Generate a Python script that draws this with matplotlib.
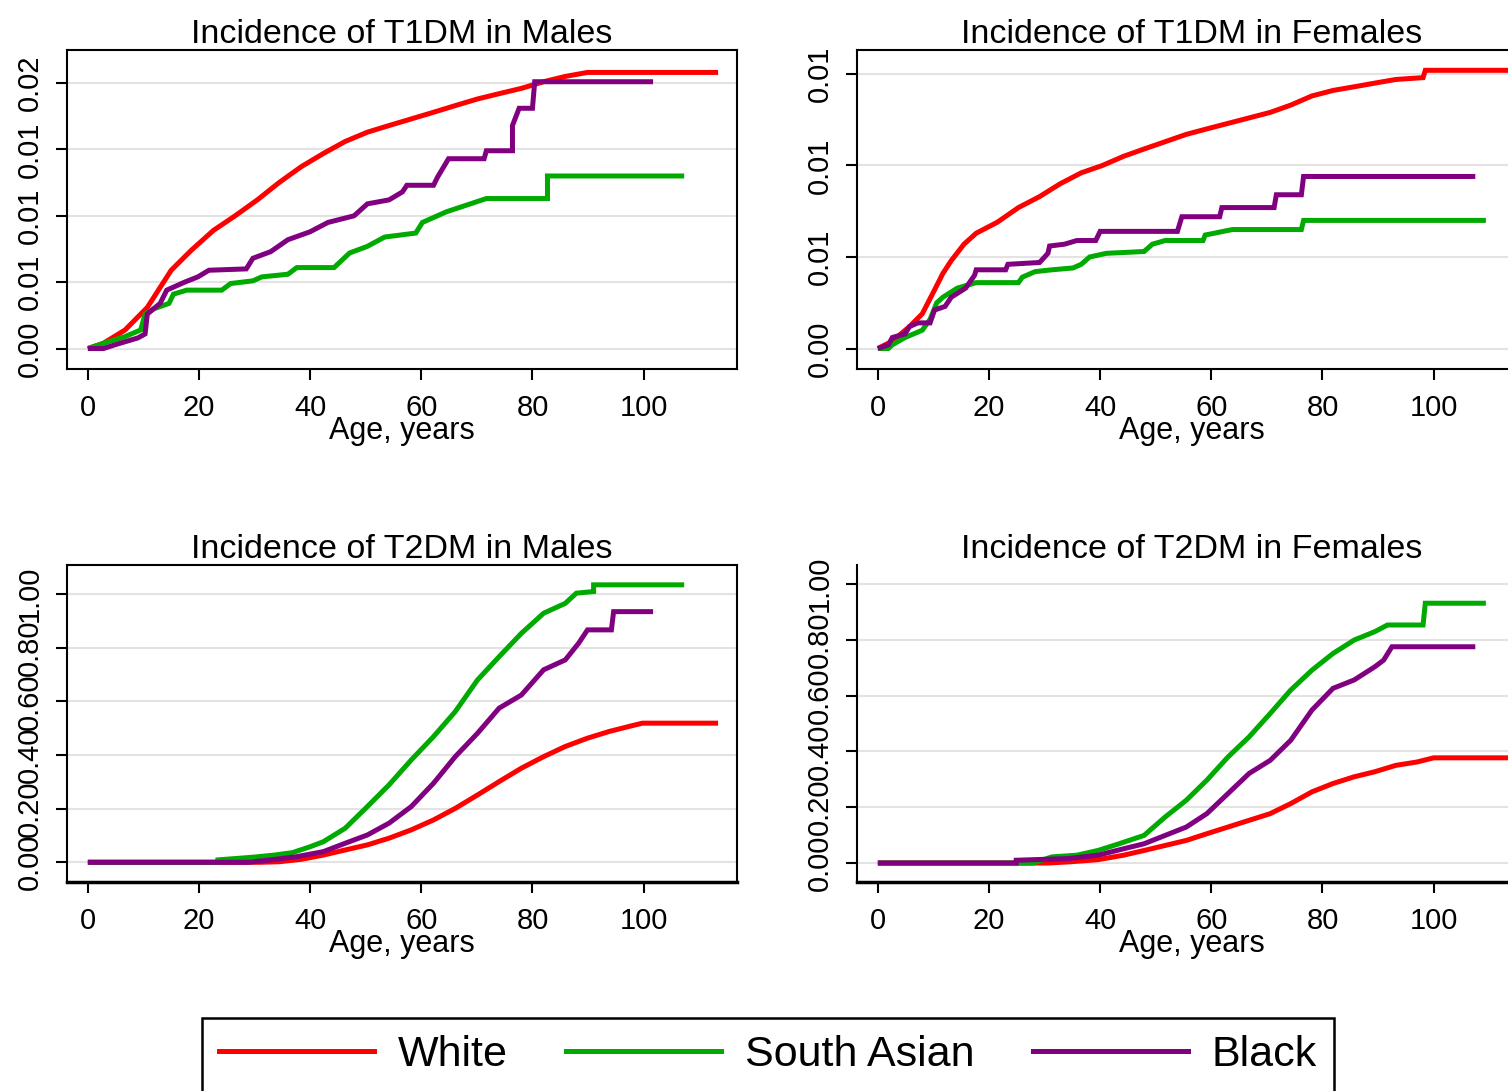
import matplotlib
matplotlib.use("Agg")
import matplotlib.pyplot as plt
from matplotlib.ticker import FormatStrFormatter
from matplotlib.lines import Line2D

plt.rcParams['font.family'] = ['Liberation Sans', 'DejaVu Sans']

# cumulative incidence by age
groups = ["White", "South Asian", "Black"]
colors = ["#ff0000", "#00aa00", "#800080"]

# T1DM, males
t1m_white_age = [0, 2.8, 6.7, 10.7, 15, 18.6, 22.6, 26.5, 30.5, 34.4, 38.4, 42.4, 46.3, 50.3, 54.2,
                 58.2, 62.2, 66.1, 70.1, 74, 78, 82, 85.9, 89.9, 113.4]
t1m_white = [0, 0.0004, 0.0014, 0.0031, 0.0059, 0.0074, 0.0089, 0.0100, 0.0112, 0.0125, 0.0137, 0.0147,
             0.0156, 0.0163, 0.0168, 0.0173, 0.0178, 0.0183, 0.0188, 0.0192, 0.0196, 0.0201, 0.0205,
             0.0208, 0.0208]
t1m_sa_age = [0, 3.6, 6.7, 9.5, 10.3, 11.9, 14.6, 15.4, 17.8, 24.1, 25.7, 29.7, 31.3, 36, 37.6, 44.3,
              47.1, 50.3, 53.4, 59, 60.2, 64.5, 68.1, 71.7, 82.7, 82.7, 107.3]
t1m_sa = [0, 0.0005, 0.0009, 0.0014, 0.0026, 0.0030, 0.0034, 0.0041, 0.0044, 0.0044, 0.0049, 0.0051,
          0.0054, 0.0056, 0.0061, 0.0061, 0.0072, 0.0077, 0.0084, 0.0087, 0.0095, 0.0103, 0.0108,
          0.0113, 0.0113, 0.0130, 0.0130]
t1m_black_age = [0, 2.8, 5, 9, 10.3, 10.7, 13, 14.2, 17.4, 19.8, 21.8, 28.5, 29.7, 32.9, 36, 40, 43.2,
                 47.9, 50.3, 54.2, 56.6, 57.4, 62.2, 62.9, 64.9, 71.3, 71.7, 76.4, 76.4, 77.6, 80,
                 80.4, 101.7]
t1m_black = [0, 0, 0.0003, 0.0008, 0.0011, 0.0026, 0.0034, 0.0044, 0.0050, 0.0054, 0.0059, 0.0060,
             0.0068, 0.0073, 0.0082, 0.0088, 0.0095, 0.0100, 0.0109, 0.0112, 0.0118, 0.0123, 0.0123,
             0.0129, 0.0143, 0.0143, 0.0149, 0.0149, 0.0168, 0.0181, 0.0181, 0.0201, 0.0201]

# T1DM, females
t1f_white_age = [0, 2.6, 5.7, 8, 10.2, 11.7, 13.2, 15.5, 17.7, 21.5, 25.3, 29.1, 32.8, 36.6, 40.4,
                 44.2, 47.9, 51.7, 55.5, 59.2, 63, 66.8, 70.6, 74.3, 78.1, 81.9, 85.7, 89.4, 93.2,
                 98.1, 98.5, 113.5]
t1f_white = [0, 0.0004, 0.0012, 0.0019, 0.0032, 0.0041, 0.0048, 0.0057, 0.0063, 0.0069, 0.0077,
             0.0083, 0.0090, 0.0096, 0.0100, 0.0105, 0.0109, 0.0113, 0.0117, 0.0120, 0.0123, 0.0126,
             0.0129, 0.0133, 0.0138, 0.0141, 0.0143, 0.0145, 0.0147, 0.0148, 0.0152, 0.0152]
t1f_sa_age = [0, 1.9, 2.6, 4.9, 8, 9.4, 10.6, 11.7, 14.3, 17.7, 25.3, 26, 28.3, 31.3, 35.1, 36.6, 38.1,
              41.1, 47.9, 49.4, 51.7, 58.5, 58.9, 63.8, 76.2, 76.6, 109.4]
t1f_sa = [0, 0, 0.0002, 0.0006, 0.0010, 0.0016, 0.0025, 0.0028, 0.0033, 0.0036, 0.0036, 0.0039, 0.0042,
          0.0043, 0.0044, 0.0046, 0.0050, 0.0052, 0.0053, 0.0057, 0.0059, 0.0059, 0.0062, 0.0065,
          0.0065, 0.0070, 0.0070]
t1f_black_age = [0, 1.9, 2.6, 4.9, 5.7, 7.2, 9.4, 10.2, 12.1, 13.2, 15.8, 17.4, 17.7, 23, 23.4, 29.1,
                 30.6, 30.9, 33.6, 35.8, 39.2, 40, 53.9, 54.7, 61.5, 61.9, 71.3, 71.7, 76.2, 76.6, 107.5]
t1f_black = [0, 0.0002, 0.0006, 0.0008, 0.0012, 0.0014, 0.0014, 0.0021, 0.0023, 0.0028, 0.0033, 0.0040,
             0.0043, 0.0043, 0.0046, 0.0047, 0.0052, 0.0056, 0.0057, 0.0059, 0.0059, 0.0064, 0.0064,
             0.0072, 0.0072, 0.0077, 0.0077, 0.0084, 0.0084, 0.0094, 0.0094]

# T2DM, males
t2m_white_age = [0, 30.9, 34.4, 38.4, 42.4, 46.3, 50.3, 54.2, 58.2, 62.2, 66.1, 70.1, 74, 78, 82, 85.9,
                 89.9, 93.8, 97.8, 99.8, 113.4]
t2m_white = [0, 0, 0.002, 0.011, 0.027, 0.046, 0.065, 0.090, 0.121, 0.158, 0.201, 0.251, 0.301, 0.351,
             0.394, 0.432, 0.463, 0.488, 0.509, 0.519, 0.519]
t2m_sa_age = [0, 23.4, 23.4, 29.7, 33.6, 36.8, 40, 42.4, 46.3, 50.3, 54.2, 58.2, 62.2, 66.1, 70.1, 74,
              78, 82, 85.9, 87.9, 91, 91, 107.3]
t2m_sa = [0, 0, 0.009, 0.019, 0.027, 0.036, 0.058, 0.077, 0.127, 0.208, 0.289, 0.382, 0.469, 0.562,
          0.680, 0.767, 0.854, 0.929, 0.966, 1.004, 1.010, 1.035, 1.035]
t2m_black_age = [0, 28.9, 32.9, 37.6, 42.4, 46.3, 50.3, 54.2, 58.2, 62.2, 66.1, 70.1, 74, 78, 82,
                 85.9, 88.3, 89.9, 94.2, 94.6, 101.7]
t2m_black = [0, 0, 0.009, 0.021, 0.040, 0.071, 0.102, 0.146, 0.208, 0.295, 0.394, 0.481, 0.575, 0.624,
             0.718, 0.755, 0.817, 0.867, 0.867, 0.935, 0.935]

# T2DM, females
t2f_white_age = [0, 30.6, 34.3, 39.6, 44.2, 47.9, 51.7, 55.5, 59.2, 63, 66.8, 70.6, 74.3, 78.1, 81.9,
                 85.7, 89.4, 93.2, 97, 100, 113.5]
t2f_white = [0, 0, 0.004, 0.012, 0.028, 0.045, 0.063, 0.081, 0.105, 0.129, 0.153, 0.177, 0.213, 0.255,
             0.285, 0.309, 0.327, 0.350, 0.362, 0.377, 0.377]
t2f_sa_age = [0, 28, 31.3, 35.8, 39.6, 43.4, 47.9, 51.7, 55.5, 59.2, 63, 66.8, 70.6, 74.3, 78.1, 81.9,
              85.7, 89.4, 91.7, 98.1, 98.5, 109.4]
t2f_sa = [0, 0, 0.022, 0.028, 0.045, 0.069, 0.099, 0.165, 0.225, 0.297, 0.380, 0.452, 0.536, 0.620,
          0.691, 0.751, 0.799, 0.829, 0.853, 0.853, 0.931, 0.931]
t2f_black_age = [0, 24.9, 24.9, 34.3, 39.6, 44.2, 47.9, 51.7, 55.5, 59.2, 63, 66.8, 70.6, 74.3, 78.1,
                 81.9, 85.7, 89.4, 91, 92.5, 107.5]
t2f_black = [0, 0, 0.010, 0.016, 0.028, 0.051, 0.069, 0.099, 0.129, 0.177, 0.249, 0.321, 0.368, 0.440,
             0.548, 0.626, 0.656, 0.703, 0.727, 0.775, 0.775]

x_ticks = [0, 20, 40, 60, 80, 100]
W, H = 1508, 1091

fig = plt.figure(figsize=(W / 100, H / 100), dpi=100)


def panel(box, title, series, yticks, ylim, top_spine=True, thick_bottom=False):
    l, t, r, b = box
    ax = fig.add_axes([l / W, 1 - b / H, (r - l) / W, (b - t) / H])
    for (xs, ys), c in zip(series, colors):
        ax.plot(xs, ys, color=c, lw=3.6, solid_joinstyle='miter', solid_capstyle='butt')
    ax.set_xlim(-3.75, 116.8)
    ax.set_ylim(*ylim)
    ax.set_xticks(x_ticks)
    ax.set_yticks(yticks)
    ax.yaxis.set_major_formatter(FormatStrFormatter('%.2f'))
    ax.yaxis.grid(True, color='#e3e3e3', lw=1.5)
    ax.set_axisbelow(True)
    ax.tick_params(axis='both', direction='out', length=8, width=1.5, labelsize=21, color='black')
    ax.tick_params(axis='x', pad=10)
    ax.tick_params(axis='y', pad=9)
    plt.setp(ax.get_yticklabels(), rotation=90, va='center')
    for s in ax.spines.values():
        s.set_linewidth(1.5)
    if thick_bottom:
        ax.spines['bottom'].set_linewidth(2.5)
    if not top_spine:
        ax.spines['top'].set_visible(False)
    ax.set_title(title, fontsize=24.5, pad=5)
    ax.set_xlabel("Age, years", fontsize=22, labelpad=-4)
    return ax


panel((67, 50, 737, 369), "Incidence of T1DM in Males",
      [(t1m_white_age, t1m_white), (t1m_sa_age, t1m_sa), (t1m_black_age, t1m_black)],
      [0, 0.005, 0.01, 0.015, 0.02], (-0.00154, 0.02249))
panel((857, 50, 1527, 369), "Incidence of T1DM in Females",
      [(t1f_white_age, t1f_white), (t1f_sa_age, t1f_sa), (t1f_black_age, t1f_black)],
      [0, 0.005, 0.01, 0.015], (-0.00112, 0.01631))
panel((67, 565, 737, 882), "Incidence of T2DM in Males",
      [(t2m_white_age, t2m_white), (t2m_sa_age, t2m_sa), (t2m_black_age, t2m_black)],
      [0, 0.2, 0.4, 0.6, 0.8, 1.0], (-0.0735, 1.109), thick_bottom=True)
panel((857, 565, 1527, 882), "Incidence of T2DM in Females",
      [(t2f_white_age, t2f_white), (t2f_sa_age, t2f_sa), (t2f_black_age, t2f_black)],
      [0, 0.2, 0.4, 0.6, 0.8, 1.0], (-0.068, 1.068), top_spine=False, thick_bottom=True)

handles = [Line2D([], [], color=c, lw=3.6) for c in colors]
leg = fig.legend(handles, groups, loc='center', bbox_to_anchor=(768 / W, 1 - 1055 / H), ncol=3,
                 fontsize=31, frameon=True, fancybox=False, edgecolor='black', framealpha=1,
                 handlelength=3.6, handletextpad=0.55, columnspacing=1.35, borderpad=0.4,
                 borderaxespad=0)
leg.get_frame().set_linewidth(1.8)

fig.savefig("out.png", dpi=100)
